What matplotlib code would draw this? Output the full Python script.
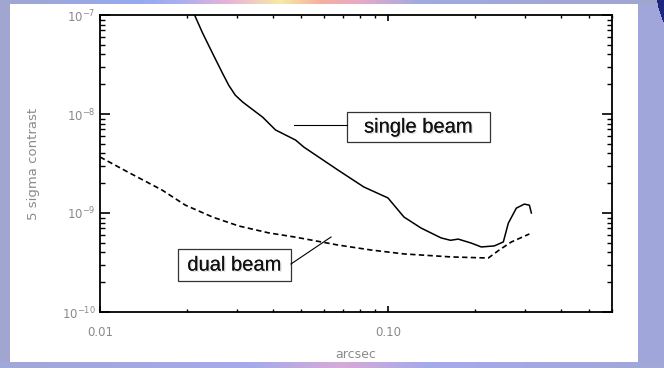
import numpy as np
import matplotlib
matplotlib.use("Agg")
import matplotlib.pyplot as plt
from matplotlib.patches import Rectangle
from matplotlib.lines import Line2D
from matplotlib import patheffects
from matplotlib.ticker import FixedLocator, FixedFormatter, LogLocator, NullFormatter

# Data (arcsec, 5 sigma contrast)
single_x = [0.0206, 0.0213, 0.0227, 0.0246, 0.0266, 0.0280, 0.0295, 0.0313, 0.0340, 0.0367,
            0.0407, 0.0478, 0.0510, 0.0670, 0.0825, 0.100, 0.1137, 0.1303, 0.153, 0.165,
            0.1754, 0.1946, 0.211, 0.234, 0.2516, 0.2619, 0.2792, 0.2977, 0.3099, 0.3149]
single_y = [1.23e-7, 1.0e-7, 6.6e-8, 4.1e-8, 2.6e-8, 1.95e-8, 1.55e-8, 1.32e-8, 1.1e-8, 9.3e-9,
            6.9e-9, 5.45e-9, 4.64e-9, 2.72e-9, 1.83e-9, 1.42e-9, 9.1e-10, 7.05e-10, 5.6e-10, 5.3e-10,
            5.45e-10, 4.97e-10, 4.54e-10, 4.65e-10, 5.1e-10, 7.9e-10, 1.12e-9, 1.23e-9, 1.2e-9, 1.0e-9]

dual_x = [0.0100, 0.0125, 0.0164, 0.0198, 0.0246, 0.0303, 0.0385, 0.0478, 0.0670,
          0.0873, 0.1137, 0.1658, 0.2231, 0.2436, 0.2684, 0.3099]
dual_y = [3.68e-9, 2.59e-9, 1.71e-9, 1.20e-9, 9.1e-10, 7.4e-10, 6.3e-10, 5.7e-10, 4.75e-10,
          4.23e-10, 3.86e-10, 3.60e-10, 3.51e-10, 4.23e-10, 5.1e-10, 6.14e-10]

xticks = [0.01, 0.1]
xticklabels = ["0.01", "0.10"]
yticks = [1e-10, 1e-9, 1e-8, 1e-7]
yticklabels = [r"$10^{-10}$", r"$10^{-9}$", r"$10^{-8}$", r"$10^{-7}$"]

W, H = 664, 368
fig = plt.figure(figsize=(W / 100, H / 100), dpi=100)

# slide background
yy, xx = np.mgrid[0:H, 0:W]
bg = np.zeros((H, W, 3))
bg[:] = np.array([160, 166, 208]) / 255
bg[..., 2] += (xx / W) * 0.04
keys = [0, 140, 180, 230, 280, 320, 360, 420, 664]
cols = np.array([[160, 166, 208], [150, 170, 240], [170, 175, 240], [235, 180, 215],
                 [245, 235, 165], [245, 175, 160], [230, 170, 200], [160, 170, 225],
                 [160, 166, 208]]) / 255
top = np.stack([np.interp(np.arange(W), keys, cols[:, c]) for c in range(3)], axis=1)
bg[:5] = top
bkeys = [0, 250, 340, 430, 664]
bcols = np.array([[160, 168, 215], [165, 170, 235], [215, 170, 215], [165, 170, 235],
                  [160, 168, 215]]) / 255
bot = np.stack([np.interp(np.arange(W), bkeys, bcols[:, c]) for c in range(3)], axis=1)
bg[362:] = bot
corner = (xx - 730) ** 2 + (yy + 10) ** 2 < 74 ** 2
bg[corner] = np.array([28, 38, 125]) / 255
bga = fig.add_axes([0, 0, 1, 1], zorder=-2)
bga.imshow(bg, aspect="auto", interpolation="bilinear")
bga.axis("off")

# white panel
fig.add_artist(Rectangle((10 / W, 6 / H), 628 / W, 358 / H, transform=fig.transFigure,
                         facecolor="white", edgecolor="none", zorder=-1))

ax = fig.add_axes([100 / W, 56 / H, 512 / W, 297 / H])
ax.set_facecolor("white")
ax.plot(single_x, single_y, color="black", lw=1.1)
ax.plot(dual_x, dual_y, color="black", lw=1.2, dashes=(3.2, 2.0))

ax.set_xscale("log")
ax.set_yscale("log")
ax.set_xlim(0.01, 0.6)
ax.set_ylim(1e-10, 1e-7)

ax.xaxis.set_major_locator(FixedLocator(xticks))
ax.xaxis.set_major_formatter(FixedFormatter(xticklabels))
ax.xaxis.set_minor_locator(LogLocator(base=10, subs=np.arange(2, 10)))
ax.xaxis.set_minor_formatter(NullFormatter())
ax.yaxis.set_major_locator(FixedLocator(yticks))
ax.yaxis.set_major_formatter(FixedFormatter(yticklabels))
ax.yaxis.set_minor_locator(LogLocator(base=10, subs=np.arange(2, 10)))
ax.yaxis.set_minor_formatter(NullFormatter())

ax.tick_params(which="both", direction="in", top=True, right=True, color="black",
               labelcolor="#8a8a8a", labelsize=8.5)
ax.tick_params(axis="y", which="major", length=7, width=1.2, pad=3)
ax.tick_params(axis="y", which="minor", length=3.6, width=1.0)
ax.tick_params(axis="x", which="major", length=4, width=1.2, pad=10)
ax.tick_params(axis="x", which="minor", length=2, width=1.0)
for s in ax.spines.values():
    s.set_linewidth(1.3)

ax.set_xlabel("arcsec", color="#8a8a8a", fontsize=9)
ax.xaxis.set_label_coords(0.5, -0.12)
ax.set_ylabel("5 sigma contrast", color="#8a8a8a", fontsize=9.5)
ax.yaxis.set_label_coords(-0.117, 0.5)

# labelled boxes with leader lines
shadow = [patheffects.withSimplePatchShadow(offset=(1, -1), shadow_rgbFace="#999999", alpha=0.3),
          patheffects.Normal()]
for (x0, y0, w, h), label, (lx, ly) in [
    ((0.4824, 0.5724, 0.2793, 0.1010), "single beam", ([0.3789, 0.4824], [0.6296, 0.6296])),
    ((0.1523, 0.1044, 0.2207, 0.1077), "dual beam", ([0.3730, 0.4512], [0.1616, 0.2525])),
]:
    ax.add_patch(Rectangle((x0, y0), w, h, transform=ax.transAxes, facecolor="white",
                           edgecolor="#333333", lw=0.9, zorder=5))
    ax.text(x0 + w / 2, y0 + h / 2, label, transform=ax.transAxes, ha="center", va="center",
            fontsize=14.5, family="Liberation Sans", color="#111111", zorder=6,
            path_effects=shadow)
    ax.add_line(Line2D(lx, ly, transform=ax.transAxes, color="black", lw=0.8, zorder=5))

fig.savefig("out.png", dpi=100)
